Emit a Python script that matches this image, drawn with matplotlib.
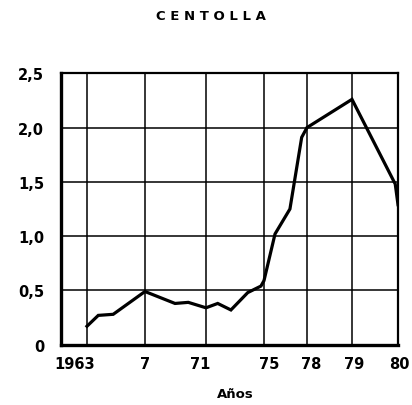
import numpy as np
import matplotlib
matplotlib.use("Agg")
import matplotlib.pyplot as plt
from matplotlib.transforms import ScaledTranslation

# ---- data ----
years = [1963, 1963.78, 1964.81, 1967, 1968.97, 1969.84, 1971, 1971.81,
         1972.72, 1973.88, 1974.79, 1975, 1975.77, 1976.81, 1977.63, 1978,
         1979, 1979.94, 1980]
values = [0.17, 0.27, 0.28, 0.49, 0.38, 0.39, 0.34, 0.38,
          0.32, 0.48, 0.54, 0.59, 1.02, 1.25, 1.91, 2.00,
          2.26, 1.48, 1.29]
tick_years = [1963, 1967, 1971, 1975, 1978, 1979, 1980]
tick_labels = ["1963", "7", "71", "75", "78", "79", "80"]
y_ticks = [0, 0.5, 1.0, 1.5, 2.0, 2.5]
y_labels = ["0", "0,5", "1,0", "1,5", "2,0", "2,5"]
title = "C E N T O L L A"
xlabel = "Años"

# ---- non-uniform x axis of the original (piecewise linear) ----
knot_years = [1900, 1963, 1967, 1971, 1975, 1978, 1979, 1980, 2000]
knot_pos = [-826.5, 87, 145, 206, 264, 307, 352, 398, 1318]

def fwd(x):
    return np.interp(x, knot_years, knot_pos)

def inv(p):
    return np.interp(p, knot_pos, knot_years)

fig = plt.figure(figsize=(4.12, 4.06), dpi=100)
ax = fig.add_axes([61/412, 1 - 345.7/406, (398-61)/412, (345.7-74.3)/406])
ax.set_xscale("function", functions=(fwd, inv))

ax.plot(years, values, color="black", lw=2.3, solid_joinstyle="miter", zorder=3)

ax.set_xlim(1961.21, 1980)
ax.set_ylim(0, 2.5)
ax.set_xticks(tick_years)
ax.set_xticklabels(tick_labels, fontsize=10.5, fontweight="bold")
ax.set_yticks(y_ticks)
ax.set_yticklabels(y_labels, fontsize=10.5, fontweight="bold")
ax.xaxis.set_minor_locator(matplotlib.ticker.NullLocator())
ax.tick_params(axis="both", length=0)
ax.tick_params(axis="x", pad=8)
ax.tick_params(axis="y", pad=12)

ax.grid(True, color="black", lw=1.1)
ax.set_axisbelow(True)
for side in ["left", "bottom"]:
    ax.spines[side].set_linewidth(2.4)
for side in ["top", "right"]:
    ax.spines[side].set_linewidth(1.6)

# small horizontal nudges of x tick labels, as in the hand-lettered original
offsets_px = [-12, 0, -6, 5, 4, 2, 1]
for lab, dx in zip(ax.get_xticklabels(), offsets_px):
    lab.set_transform(lab.get_transform() + ScaledTranslation(dx/100, 0, fig.dpi_scale_trans))

fig.text(211/412, 1 - 17/406, title, ha="center", va="center",
         fontsize=9.5, fontweight="bold")
fig.text(235/412, 1 - 395/406, xlabel, ha="center", va="center",
         fontsize=9.5, fontweight="bold")

fig.savefig("out.png", dpi=100, facecolor="white")
